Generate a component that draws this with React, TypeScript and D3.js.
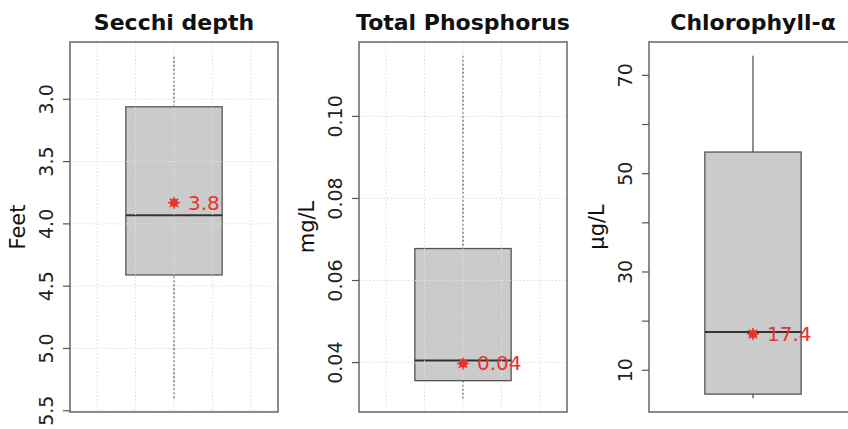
import React from "react";
import * as d3 from "d3";

const titles = ["Secchi depth", "Total Phosphorus", "Chlorophyll-α"];
const units = ["Feet", "mg/L", "μg/L"];
// [lower whisker, q1, median, q3, upper whisker]
const secchiStats = [2.65, 3.06, 3.93, 4.41, 5.4];
const tpStats = [0.0313, 0.0356, 0.0405, 0.0678, 0.1148];
const chlStats = [4.3, 5.15, 17.8, 54.4, 74.0];
const means = [3.83, 0.0398, 17.4];
const meanLabels = ["3.8", "0.04", "17.4"];
const secchiTicks = [3.0, 3.5, 4.0, 4.5, 5.0, 5.5];
const tpTicks = [0.04, 0.06, 0.08, 0.1];
const chlTicks = [10, 20, 30, 40, 50, 60, 70];
const chlTickLabels = [10, 30, 50, 70];
const gridX = [0.6, 0.8, 1.0, 1.2, 1.4];

const W = 848;
const H = 429;
const TOP = 42;
const BOTTOM = 412;
const PANEL_W = 208;
const panelLefts = [70, 359, 649];
const FONT = "DejaVu Sans, sans-serif";
const RED = "#e8332f";

type PanelSpec = {
  stats: number[];
  ticks: number[];
  tickLabels: number[];
  fmt: (v: number) => string;
  reversed: boolean;
  grid: boolean;
  whiskerDash: string | undefined;
};

const specs: PanelSpec[] = [
  { stats: secchiStats, ticks: secchiTicks, tickLabels: secchiTicks, fmt: d3.format(".1f"), reversed: true, grid: true, whiskerDash: "2,2" },
  { stats: tpStats, ticks: tpTicks, tickLabels: tpTicks, fmt: d3.format(".2f"), reversed: false, grid: true, whiskerDash: "2,2" },
  { stats: chlStats, ticks: chlTicks, tickLabels: chlTickLabels, fmt: d3.format("d"), reversed: false, grid: false, whiskerDash: undefined },
];

function Panel({ i }: { i: number }) {
  const s = specs[i];
  const left = panelLefts[i];
  const lo = s.stats[0];
  const hi = s.stats[4];
  const pad = (hi - lo) * 0.04;
  const y = d3
    .scaleLinear()
    .domain([lo - pad, hi + pad])
    .range(s.reversed ? [TOP, BOTTOM] : [BOTTOM, TOP]);
  const x = d3.scaleLinear().domain([0.46, 1.54]).range([left, left + PANEL_W]);
  const cx = x(1);
  const [wl, q1, med, q3, wh] = s.stats;
  const boxL = x(0.75);
  const boxR = x(1.25);
  const my = y(means[i]);
  const star = [0, 45, 90, 135].map((a) => {
    const r = (a * Math.PI) / 180;
    return { dx: Math.cos(r) * 6, dy: Math.sin(r) * 6 };
  });
  return (
    <g>
      <text x={cx} y={30} textAnchor="middle" fontFamily={FONT} fontWeight="bold" fontSize={22} fill="#111">
        {titles[i]}
      </text>
      {/* box */}
      <line x1={cx} x2={cx} y1={y(wh)} y2={y(q3)} stroke="#555" strokeWidth={1.3} strokeDasharray={s.whiskerDash} />
      <line x1={cx} x2={cx} y1={y(q1)} y2={y(wl)} stroke="#555" strokeWidth={1.3} strokeDasharray={s.whiskerDash} />
      <rect
        x={boxL}
        y={Math.min(y(q1), y(q3))}
        width={boxR - boxL}
        height={Math.abs(y(q3) - y(q1))}
        fill="#cbcbcb"
        stroke="#555"
        strokeWidth={1.3}
      />
      <line x1={boxL} x2={boxR} y1={y(med)} y2={y(med)} stroke="#333" strokeWidth={2} />
      {/* grid */}
      {s.grid && (
        <g stroke="#dedede" strokeWidth={1} strokeDasharray="1.5,2">
          {gridX.map((g) => (
            <line key={"gx" + g} x1={x(g)} x2={x(g)} y1={TOP} y2={BOTTOM} />
          ))}
          {s.ticks.map((t) => (
            <line key={"gy" + t} x1={left} x2={left + PANEL_W} y1={y(t)} y2={y(t)} />
          ))}
        </g>
      )}
      {/* mean */}
      <circle cx={cx} cy={my} r={4} fill={RED} />
      {star.map((p, k) => (
        <line key={k} x1={cx - p.dx} x2={cx + p.dx} y1={my - p.dy} y2={my + p.dy} stroke={RED} strokeWidth={1.5} />
      ))}
      <text x={cx + 14} y={my} dominantBaseline="central" fontFamily={FONT} fontSize={20} fill={RED}>
        {meanLabels[i]}
      </text>
      {/* frame */}
      <rect x={left} y={TOP} width={PANEL_W} height={BOTTOM - TOP} fill="none" stroke="#666" strokeWidth={1.5} />
      {/* axis */}
      {s.ticks.map((t) => (
        <line key={"t" + t} x1={left - 7} x2={left} y1={y(t)} y2={y(t)} stroke="#555" strokeWidth={1.2} />
      ))}
      {s.tickLabels.map((t) => (
        <text
          key={"l" + t}
          transform={`translate(${left - 17},${y(t)}) rotate(-90)`}
          textAnchor="middle"
          fontFamily={FONT}
          fontSize={19}
          fill="#222"
        >
          {s.fmt(t)}
        </text>
      ))}
      <text
        transform={`translate(${left - 45},${(TOP + BOTTOM) / 2}) rotate(-90)`}
        textAnchor="middle"
        fontFamily={FONT}
        fontSize={21}
        fill="#111"
      >
        {units[i]}
      </text>
    </g>
  );
}

export default function App() {
  return (
    <svg width={W} height={H} style={{ position: "absolute", left: 0, top: 0, background: "#fff" }}>
      <rect width={W} height={H} fill="#fff" />
      {[0, 1, 2].map((i) => (
        <Panel key={i} i={i} />
      ))}
    </svg>
  );
}
